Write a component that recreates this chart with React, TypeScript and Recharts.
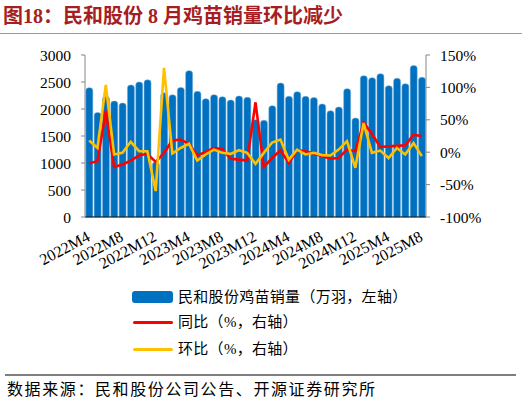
import { Bar, ComposedChart, Line, XAxis, YAxis } from "recharts";

const months = [
  "2022M4", "2022M5", "2022M6", "2022M7", "2022M8", "2022M9", "2022M10", "2022M11", "2022M12",
  "2023M1", "2023M2", "2023M3", "2023M4", "2023M5", "2023M6", "2023M7", "2023M8", "2023M9", "2023M10", "2023M11", "2023M12",
  "2024M1", "2024M2", "2024M3", "2024M4", "2024M5", "2024M6", "2024M7", "2024M8", "2024M9", "2024M10", "2024M11", "2024M12",
  "2025M1", "2025M2", "2025M3", "2025M4", "2025M5", "2025M6", "2025M7", "2025M8",
];

// 鸡苗销量（万羽）
const sales = [
  2395, 1935, 2235, 2148, 2110, 2444, 2500, 2540, 1020,
  2300, 2262, 2400, 2710, 2327, 2191, 2265, 2228, 2167, 2241, 2216, 1802,
  1790, 2062, 2481, 2235, 2321, 2235, 2213, 2093, 1969, 2037, 2377, 1833,
  2617, 2580, 2654, 2432, 2568, 2469, 2805, 2586,
];

// 同比（%）
const yoy = [
  -17, -14, 64, -23, -19, -13, -5, -2.5, -15,
  -1, 18, 19.5, 13, -5, 0.5, 6.5, 5, -10, -11.5, -13, 77,
  -23, -9, 3, -16.5, 3, 1.5, -2, -6, -10, -9, 4, 1.5,
  46, 28, 8, 9, 10, 10.5, 27, 24.5,
];

// 环比（%）
const mom = [
  18, 6.5, 104, -3.5, -1, 16, 1.5, 1.5, -60,
  130, -2, 6.5, 13, -13, -3.5, 4, -1, -2.5, 3, -1, -18,
  -1, 15, 19.5, -11.5, 4, -3.5, -1, -4.5, -5, 4, 17, -24,
  45, -1, 2.5, -9, 6.5, -3.5, 14, -6,
];

const leftTicks = [0, 500, 1000, 1500, 2000, 2500, 3000];
const rightTicks = [-100, -50, 0, 50, 100, 150];

const data = months.map((month, i) => ({ month, sales: sales[i], yoy: yoy[i], mom: mom[i] }));

const serif = "'Liberation Serif', 'Times New Roman', 'Noto Sans CJK SC', serif";

function MonthTick({ x, y, payload }: any) {
  const ax = x + 2;
  const ay = y + 23;
  return (
    <text x={ax} y={ay} textAnchor="end" transform={`rotate(-28, ${ax}, ${ay})`} fontFamily={serif} fontSize={16} fill="#000">
      {payload.value}
    </text>
  );
}

const legendText = { position: "absolute" as const, left: 178, fontSize: 15, letterSpacing: 0.3, lineHeight: "18px", fontFamily: serif, color: "#000", whiteSpace: "nowrap" as const };

export default function App() {
  return (
    <div style={{ position: "absolute", left: 0, top: 0, width: 522, height: 404, background: "#fff", fontFamily: serif }}>
      <div style={{ position: "absolute", left: 3, top: 4, fontSize: 20, lineHeight: "24px", fontWeight: "bold", color: "#A61E22", whiteSpace: "nowrap" }}>
        图18：民和股份 8 月鸡苗销量环比减少
      </div>
      <div style={{ position: "absolute", left: 0, top: 33, width: 522, height: 1, background: "#9a9a9a" }} />

      <ComposedChart width={522} height={404} data={data} margin={{ top: 55, right: 46, left: 35, bottom: 137 }} barCategoryGap="10%">
        <XAxis dataKey="month" interval={3} tickLine={false} tickSize={0} tickMargin={0} height={50} axisLine={{ stroke: "#000" }} tick={<MonthTick />} />
        <YAxis
          yAxisId="left"
          domain={[0, 3000]}
          ticks={leftTicks}
          width={50}
          tickSize={4}
          tickMargin={10}
          axisLine={{ stroke: "#868686" }}
          tickLine={{ stroke: "#868686" }}
          tick={{ fill: "#000", fontSize: 15.5, fontFamily: serif }}
        />
        <YAxis
          yAxisId="right"
          orientation="right"
          domain={[-100, 150]}
          ticks={rightTicks}
          width={50}
          tickSize={4}
          tickMargin={10}
          axisLine={{ stroke: "#868686" }}
          tickLine={{ stroke: "#868686" }}
          tickFormatter={(v: number) => `${v}%`}
          tick={{ fill: "#000", fontSize: 15.5, fontFamily: serif }}
        />
        <Bar yAxisId="left" dataKey="sales" fill="#0070C0" stroke="#7FB2DD" strokeWidth={0.5} radius={[3, 3, 0, 0]} isAnimationActive={false} />
        <Line yAxisId="right" dataKey="yoy" stroke="#FF0000" strokeWidth={2.6} dot={false} isAnimationActive={false} />
        <Line yAxisId="right" dataKey="mom" stroke="#FFC000" strokeWidth={2.6} dot={false} isAnimationActive={false} />
      </ComposedChart>

      <div style={{ position: "absolute", left: 132, top: 291, width: 41, height: 12, borderRadius: 3, background: "#0070C0" }} />
      <div style={{ ...legendText, top: 288 }}>民和股份鸡苗销量（万羽，左轴）</div>
      <div style={{ position: "absolute", left: 133, top: 321, width: 40, height: 3, borderRadius: 1.5, background: "#FF0000" }} />
      <div style={{ ...legendText, top: 313 }}>同比（%，右轴）</div>
      <div style={{ position: "absolute", left: 133, top: 348, width: 40, height: 3, borderRadius: 1.5, background: "#FFC000" }} />
      <div style={{ ...legendText, top: 340 }}>环比（%，右轴）</div>

      <div style={{ position: "absolute", left: 5, top: 374, width: 511, height: 2, background: "#7f7f7f" }} />
      <div style={{ position: "absolute", left: 7, top: 380, fontSize: 16, lineHeight: "20px", letterSpacing: 1.6, color: "#000", whiteSpace: "nowrap" }}>
        数据来源：民和股份公司公告、开源证券研究所
      </div>
    </div>
  );
}
